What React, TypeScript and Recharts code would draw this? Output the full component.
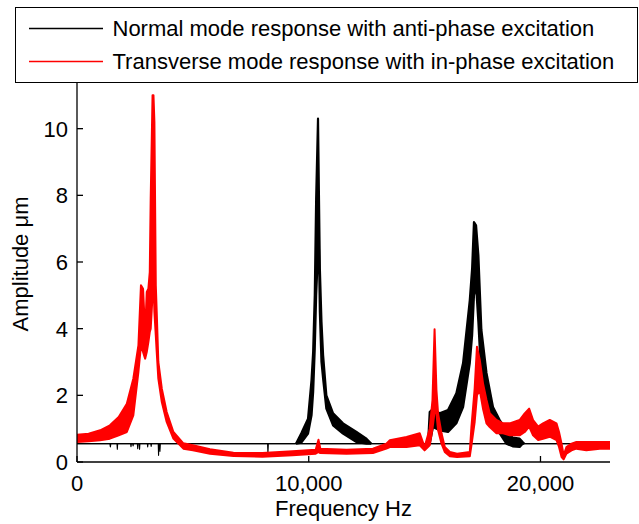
import React from 'react';
import { ComposedChart, Area, XAxis, YAxis, Legend } from 'recharts';

const FONT = '"Liberation Sans", Arial, Helvetica, sans-serif';

const seriesNames = [
  'Normal mode response with anti-phase excitation',
  'Transverse mode response with in-phase excitation',
];
const seriesColors = ['#000000', '#ff0000'];

const xTicks = [0, 10000, 20000];
const yTicks = [0, 2, 4, 6, 8, 10];
const xDomain = [0, 23000];
const yDomain = [0, 11.4];
const xTitle = 'Frequency Hz';
const yTitle = 'Amplitude μm';

// [frequency Hz, lower envelope μm, upper envelope μm]
// Normal mode: flat floor with small dips
const normalFloor: [number, number, number][] = [
  [0, 0.55, 0.55],
  [1420, 0.55, 0.55], [1440, 0.45, 0.55], [1460, 0.55, 0.55],
  [1725, 0.55, 0.55], [1740, 0.38, 0.55], [1755, 0.55, 0.55],
  [2315, 0.55, 0.55], [2330, 0.46, 0.55], [2345, 0.55, 0.55],
  [2405, 0.55, 0.55], [2420, 0.48, 0.55], [2435, 0.55, 0.55],
  [2605, 0.55, 0.55], [2620, 0.4, 0.55], [2635, 0.55, 0.55],
  [2685, 0.55, 0.55], [2700, 0.38, 0.55], [2715, 0.55, 0.55],
  [3035, 0.55, 0.55], [3050, 0.45, 0.55], [3065, 0.55, 0.55],
  [3185, 0.55, 0.55], [3200, 0.47, 0.55], [3215, 0.55, 0.55],
  [3505, 0.55, 0.55], [3520, 0.2, 0.55], [3535, 0.55, 0.55],
  [3565, 0.55, 0.55], [3580, 0.32, 0.55], [3595, 0.55, 0.55],
  [8225, 0.55, 0.55], [8240, 0.27, 0.55], [8255, 0.55, 0.55],
  [23000, 0.55, 0.55],
];

// Normal mode: first resonance
const normalPeak1: [number, number, number][] = [
  [9450, 0.55, 0.55], [9680, 0.58, 0.86], [9970, 0.85, 1.3], [10120, 1.4, 2.46],
  [10190, 2.1, 3.3], [10260, 3.4, 5.0], [10320, 5.0, 7.9], [10400, 6.3, 10.3],
  [10440, 6.4, 8.0], [10480, 4.5, 5.8], [10550, 3.0, 4.2], [10620, 2.5, 3.2],
  [10760, 1.6, 2.0], [11050, 1.1, 1.46], [11480, 0.85, 1.16], [12060, 0.6, 0.9],
  [12490, 0.55, 0.7], [12700, 0.55, 0.55],
];

// Normal mode: second resonance
const normalPeak2: [number, number, number][] = [
  [15150, 0.55, 0.55], [15220, 0.55, 1.5], [15360, 1.05, 1.6], [15650, 0.95, 1.46],
  [16010, 0.9, 1.56], [16370, 1.16, 2.06], [16660, 1.65, 2.97], [16950, 2.97, 4.86],
  [17050, 3.8, 5.8], [17130, 5.0, 7.2], [17220, 5.3, 7.1], [17320, 4.2, 6.2],
  [17450, 2.46, 3.96], [17670, 1.65, 2.67], [17950, 1.05, 1.65], [18240, 0.86, 1.26],
  [18530, 0.55, 0.96], [18800, 0.47, 0.73], [19100, 0.45, 0.7], [19230, 0.55, 0.6],
  [19300, 0.55, 0.55],
];

const transverseResponse: [number, number, number][] = [
  [0, 0.6, 0.82], [500, 0.62, 0.85], [1000, 0.65, 0.95], [1420, 0.7, 1.1],
  [1800, 0.8, 1.35], [2150, 0.9, 1.75], [2430, 1.4, 2.5], [2650, 2.7, 3.5],
  [2760, 3.5, 5.3], [2850, 3.3, 5.2], [2940, 3.1, 3.9], [3010, 3.3, 5.1],
  [3080, 3.6, 5.2], [3140, 3.9, 5.7], [3180, 4.0, 7.9], [3260, 5.0, 11.0],
  [3300, 5.5, 11.0], [3340, 4.5, 10.2], [3400, 3.8, 5.3], [3440, 3.3, 4.5],
  [3510, 2.5, 3.0], [3660, 1.8, 2.2], [3870, 1.2, 1.5], [4160, 0.7, 0.9],
  [4590, 0.4, 0.56], [5000, 0.35, 0.5], [5740, 0.25, 0.38], [6750, 0.18, 0.28],
  [8000, 0.16, 0.27], [9300, 0.2, 0.32], [10300, 0.25, 0.37], [10420, 0.3, 0.67],
  [10500, 0.27, 0.4], [11630, 0.25, 0.37], [12770, 0.27, 0.4], [13350, 0.4, 0.55],
  [13500, 0.45, 0.65], [14220, 0.45, 0.75], [14790, 0.5, 0.86], [15000, 0.35, 0.45],
  [15220, 0.5, 1.0], [15340, 1.0, 1.86], [15430, 1.5, 3.98], [15510, 1.46, 2.16],
  [15580, 0.96, 1.46], [15730, 0.55, 0.86], [15870, 0.3, 0.45], [16090, 0.17, 0.3],
  [16400, 0.15, 0.25], [16950, 0.17, 0.3], [17020, 0.5, 1.05], [17160, 1.2, 2.2],
  [17260, 2.0, 3.46], [17380, 2.16, 3.06], [17520, 1.6, 2.36], [17670, 1.16, 1.86],
  [17810, 1.05, 1.46], [18100, 0.86, 1.26], [18390, 0.86, 1.16], [18670, 0.8, 1.16],
  [19100, 0.8, 1.26], [19320, 0.9, 1.46], [19510, 1.06, 1.6], [19680, 0.8, 1.26],
  [19900, 0.66, 1.06], [20110, 0.7, 1.16], [20400, 0.76, 1.26], [20690, 0.66, 1.16],
  [20800, 0.45, 0.9], [20910, 0.15, 0.55], [21000, 0.08, 0.2], [21120, 0.25, 0.45],
  [21340, 0.35, 0.55], [21550, 0.4, 0.6], [21980, 0.35, 0.6], [22560, 0.4, 0.6],
  [23000, 0.4, 0.6],
];

const toRows = (arr: [number, number, number][]) =>
  arr.map(([f, lo, hi]) => ({ f, v: [lo, hi] }));

const normalFloorRows = toRows(normalFloor);
const normalPeak1Rows = toRows(normalPeak1);
const normalPeak2Rows = toRows(normalPeak2);
const transverseRows = toRows(transverseResponse);

const AXIS_W = 1.3;
const TICK_LEN = 6;

const XTick = (props: any) => {
  const { x, y, payload } = props;
  return (
    <g>
      <line x1={x} x2={x} y1={y} y2={y - TICK_LEN} stroke="#000" strokeWidth={AXIS_W} />
      <text x={x} y={y + 29} textAnchor="middle" fontSize={22} fontFamily={FONT} fill="#000">
        {Number(payload.value).toLocaleString('en-US')}
      </text>
    </g>
  );
};

const YTickLeft = (props: any) => {
  const { x, y, payload } = props;
  return (
    <g>
      <line x1={x} x2={x + TICK_LEN} y1={y} y2={y} stroke="#000" strokeWidth={AXIS_W} />
      <text x={x - 9} y={y + 8} textAnchor="end" fontSize={22} fontFamily={FONT} fill="#000">
        {payload.value}
      </text>
    </g>
  );
};

const YTickRight = (props: any) => {
  const { x, y } = props;
  return <line x1={x} x2={x - TICK_LEN} y1={y} y2={y} stroke="#000" strokeWidth={AXIS_W} />;
};

const XTitle = (props: any) => {
  const vb = props.viewBox || { x: 0, y: 0, width: 0, height: 0 };
  return (
    <text x={vb.x + vb.width / 2} y={vb.y + 54} textAnchor="middle" fontSize={22} fontFamily={FONT} fill="#000">
      {xTitle}
    </text>
  );
};

const YTitle = (props: any) => {
  const vb = props.viewBox || { x: 0, y: 0, width: 0, height: 0 };
  const cx = vb.x + 28;
  const cy = vb.y + vb.height / 2 - 8;
  return (
    <text x={cx} y={cy} transform={`rotate(-90 ${cx} ${cy})`} textAnchor="middle" fontSize={22} fontFamily={FONT} fill="#000">
      {yTitle}
    </text>
  );
};

const LegendBox = () => (
  <div style={{ width: 623, height: 76, border: '1.5px solid #000', boxSizing: 'border-box', background: '#fff' }}>
    <svg width={620} height={73} style={{ display: 'block' }}>
      {seriesNames.map((name, i) => (
        <g key={name}>
          <line x1={13} x2={87} y1={20.5 + i * 33} y2={20.5 + i * 33} stroke={seriesColors[i]} strokeWidth={1.5} />
          <text x={96.5} y={28 + i * 33} fontSize={22} fontFamily={FONT} fill="#000">
            {name}
          </text>
        </g>
      ))}
    </svg>
  </div>
);

const areaCommon = {
  xAxisId: 'b',
  yAxisId: 'l',
  dataKey: 'v',
  type: 'linear' as const,
  fillOpacity: 1,
  dot: false,
  activeDot: false,
  isAnimationActive: false,
  strokeLinejoin: 'round' as const,
};

export default function App() {
  return (
    <div style={{ position: 'absolute', left: 0, top: 0, width: 639, height: 524, background: '#fff' }}>
      <ComposedChart width={639} height={524} margin={{ top: 82, right: 29, bottom: 0, left: 0 }}>
        <XAxis
          xAxisId="b"
          dataKey="f"
          type="number"
          domain={xDomain}
          ticks={xTicks}
          allowDataOverflow
          height={62}
          axisLine={{ stroke: '#000', strokeWidth: AXIS_W }}
          tickLine={false}
          tickSize={0}
          tickMargin={0}
          tick={XTick}
          interval={0}
          label={<XTitle />}
        />
        <XAxis
          xAxisId="t"
          orientation="top"
          dataKey="f"
          type="number"
          domain={xDomain}
          allowDataOverflow
          height={0}
          axisLine={{ stroke: '#000', strokeWidth: AXIS_W }}
          tickLine={false}
          tick={false}
        />
        <YAxis
          yAxisId="l"
          type="number"
          domain={yDomain}
          ticks={yTicks}
          allowDataOverflow
          width={77}
          axisLine={{ stroke: '#000', strokeWidth: AXIS_W }}
          tickLine={false}
          tickSize={0}
          tickMargin={0}
          tick={YTickLeft}
          interval={0}
          label={<YTitle />}
        />
        <YAxis
          yAxisId="r"
          orientation="right"
          type="number"
          domain={yDomain}
          ticks={yTicks}
          allowDataOverflow
          width={0}
          axisLine={{ stroke: '#000', strokeWidth: AXIS_W }}
          tickLine={false}
          tickSize={0}
          tickMargin={0}
          tick={YTickRight}
          interval={0}
        />
        <Area {...areaCommon} data={normalFloorRows} name={seriesNames[0]} stroke={seriesColors[0]} strokeWidth={1.1} fill={seriesColors[0]} />
        <Area {...areaCommon} data={normalPeak1Rows} name="normal-peak-1" legendType="none" stroke={seriesColors[0]} strokeWidth={2.2} fill={seriesColors[0]} />
        <Area {...areaCommon} data={normalPeak2Rows} name="normal-peak-2" legendType="none" stroke={seriesColors[0]} strokeWidth={2.2} fill={seriesColors[0]} />
        <Area {...areaCommon} data={transverseRows} name={seriesNames[1]} stroke={seriesColors[1]} strokeWidth={2} fill={seriesColors[1]} />
        <Legend
          layout="horizontal"
          verticalAlign="middle"
          align="center"
          wrapperStyle={{ position: 'absolute', left: 15, top: 7, width: 623, height: 76, margin: 0, padding: 0 }}
          content={() => <LegendBox />}
        />
      </ComposedChart>
    </div>
  );
}
